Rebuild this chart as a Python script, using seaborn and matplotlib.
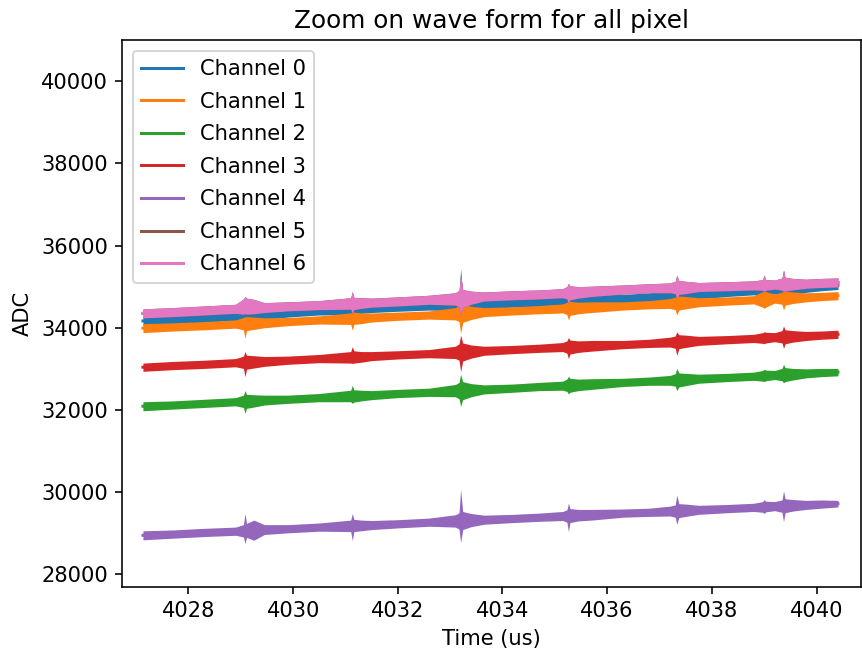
import matplotlib
matplotlib.use("Agg")
import matplotlib.pyplot as plt
import pandas as pd
import seaborn as sns

# Sample times (us) (denser around the periodic bursts)
time_us = [4027.13, 4027.7, 4028.3, 4028.9, 4029.05, 4029.08, 4029.11, 4029.25, 4029.45, 4029.9,
           4030.5, 4031.1, 4031.13, 4031.16, 4031.3, 4031.5, 4032.0, 4032.6, 4033.1, 4033.17,
           4033.2, 4033.24, 4033.4, 4033.65, 4034.2, 4034.7, 4035.15, 4035.23, 4035.26, 4035.29,
           4035.45, 4035.7, 4036.3, 4036.8, 4037.2, 4037.3, 4037.33, 4037.37, 4037.5, 4037.75,
           4038.3, 4038.8, 4038.97, 4039.0, 4039.03, 4039.2, 4039.34, 4039.37, 4039.4, 4039.55,
           4039.8, 4040.1, 4040.41]

# Lower / upper edge of each noisy waveform band (ADC)
ch0_lo = [34060, 34090, 34130, 34180, 34150, 34050, 34140, 34170, 34200, 34260,
          34310, 34320, 34330, 34330, 34350, 34370, 34400, 34430, 34410, 34360,
          34150, 34340, 34410, 34460, 34500, 34520, 34520, 34500, 34310, 34480,
          34520, 34540, 34590, 34630, 34640, 34620, 34640, 34620, 34650, 34700,
          34760, 34800, 34780, 34750, 34780, 34820, 34800, 34790, 34790, 34820,
          34860, 34900, 34930]
ch0_hi = [34270, 34310, 34350, 34400, 34450, 34600, 34480, 34470, 34460, 34480,
          34530, 34600, 34700, 34610, 34610, 34610, 34620, 34650, 34710, 34760,
          35440, 34800, 34730, 34700, 34720, 34740, 34760, 34800, 35040, 34820,
          34800, 34800, 34810, 34850, 34900, 34940, 35280, 34960, 34950, 34940,
          34980, 35020, 35060, 35280, 35060, 35060, 35100, 35400, 35110, 35100,
          35100, 35120, 35140]

ch1_lo = [33880, 33920, 33950, 33990, 33950, 33740, 33930, 33960, 34000, 34050,
          34090, 34080, 33940, 34080, 34100, 34140, 34180, 34210, 34190, 34150,
          33860, 34130, 34200, 34270, 34310, 34340, 34360, 34320, 34190, 34300,
          34340, 34370, 34430, 34460, 34470, 34440, 34310, 34430, 34460, 34510,
          34550, 34580, 34500, 34470, 34500, 34600, 34570, 34430, 34550, 34590,
          34630, 34660, 34680]
ch1_hi = [34100, 34120, 34150, 34190, 34250, 34270, 34270, 34260, 34240, 34250,
          34290, 34360, 34390, 34380, 34360, 34360, 34380, 34410, 34490, 34550,
          34590, 34570, 34520, 34490, 34510, 34540, 34580, 34620, 34660, 34640,
          34620, 34630, 34630, 34660, 34710, 34740, 34800, 34770, 34760, 34730,
          34750, 34780, 34880, 34880, 34880, 34820, 34870, 34880, 34890, 34870,
          34850, 34860, 34880]

ch2_lo = [31980, 32020, 32060, 32100, 32060, 31920, 32040, 32070, 32120, 32160,
          32200, 32200, 32160, 32190, 32220, 32250, 32300, 32330, 32320, 32270,
          32090, 32250, 32320, 32390, 32430, 32470, 32480, 32450, 32390, 32430,
          32470, 32500, 32570, 32600, 32600, 32580, 32470, 32560, 32590, 32650,
          32690, 32720, 32700, 32690, 32710, 32740, 32710, 32660, 32690, 32730,
          32780, 32810, 32830]
ch2_hi = [32200, 32220, 32260, 32300, 32360, 32470, 32380, 32370, 32360, 32360,
          32400, 32480, 32600, 32490, 32480, 32470, 32500, 32530, 32620, 32670,
          32870, 32690, 32640, 32610, 32630, 32670, 32700, 32750, 32820, 32770,
          32750, 32760, 32770, 32800, 32840, 32880, 33010, 32900, 32890, 32870,
          32890, 32920, 32960, 32990, 32970, 32960, 33010, 33110, 33030, 33010,
          33000, 33010, 33010]

ch3_lo = [32940, 32980, 33010, 33050, 33010, 32810, 32990, 33020, 33060, 33110,
          33150, 33140, 33130, 33140, 33160, 33200, 33240, 33270, 33250, 33210,
          32930, 33190, 33260, 33330, 33370, 33400, 33420, 33380, 33250, 33360,
          33400, 33430, 33490, 33520, 33530, 33500, 33330, 33490, 33520, 33570,
          33610, 33640, 33620, 33610, 33630, 33660, 33630, 33500, 33610, 33650,
          33690, 33720, 33740]
ch3_hi = [33140, 33180, 33210, 33250, 33310, 33420, 33330, 33320, 33300, 33310,
          33350, 33420, 33540, 33440, 33420, 33420, 33440, 33470, 33550, 33610,
          33820, 33630, 33580, 33550, 33570, 33600, 33640, 33680, 33760, 33700,
          33680, 33690, 33690, 33720, 33770, 33800, 33900, 33830, 33820, 33790,
          33810, 33840, 33880, 33900, 33890, 33880, 33930, 34040, 33950, 33930,
          33910, 33920, 33940]

ch4_lo = [28840, 28880, 28920, 28950, 28910, 28750, 28900, 28830, 28970, 29010,
          29050, 29040, 28820, 29040, 29060, 29090, 29130, 29170, 29150, 29100,
          28770, 29090, 29160, 29220, 29260, 29290, 29310, 29270, 29040, 29260,
          29300, 29320, 29390, 29410, 29420, 29390, 29220, 29380, 29410, 29460,
          29500, 29530, 29510, 29480, 29520, 29550, 29510, 29280, 29500, 29540,
          29580, 29610, 29640]
ch4_hi = [29060, 29080, 29120, 29150, 29210, 29480, 29240, 29320, 29210, 29210,
          29250, 29320, 29480, 29340, 29320, 29310, 29330, 29370, 29450, 29500,
          30070, 29530, 29480, 29440, 29460, 29490, 29530, 29570, 29730, 29600,
          29580, 29580, 29590, 29610, 29660, 29690, 29930, 29720, 29710, 29680,
          29700, 29730, 29770, 29820, 29780, 29770, 29810, 30030, 29840, 29820,
          29800, 29810, 29800]

ch6_lo = [34240, 34270, 34310, 34350, 34330, 34340, 34330, 34340, 34370, 34410,
          34440, 34450, 34350, 34440, 34470, 34500, 34530, 34570, 34550, 34510,
          34300, 34490, 34570, 34650, 34680, 34700, 34730, 34700, 34590, 34680,
          34720, 34760, 34820, 34850, 34850, 34830, 34710, 34810, 34830, 34880,
          34900, 34920, 34910, 34880, 34910, 34940, 34910, 34880, 34890, 34920,
          34960, 34980, 34990]
ch6_hi = [34460, 34490, 34530, 34570, 34700, 34760, 34720, 34690, 34610, 34630,
          34660, 34730, 34880, 34740, 34730, 34720, 34750, 34790, 34850, 34910,
          35300, 34930, 34890, 34870, 34900, 34920, 34950, 35000, 35080, 35020,
          35000, 35010, 35040, 35070, 35090, 35130, 35280, 35150, 35130, 35100,
          35120, 35140, 35170, 35280, 35170, 35160, 35210, 35400, 35230, 35200,
          35180, 35200, 35210]

# Channel 5 is completely hidden underneath channel 6 in the picture
ch5_lo = list(ch6_lo)
ch5_hi = list(ch6_hi)

channel_names = ["Channel 0", "Channel 1", "Channel 2", "Channel 3",
                 "Channel 4", "Channel 5", "Channel 6"]
band_lo = [ch0_lo, ch1_lo, ch2_lo, ch3_lo, ch4_lo, ch5_lo, ch6_lo]
band_hi = [ch0_hi, ch1_hi, ch2_hi, ch3_hi, ch4_hi, ch5_hi, ch6_hi]

rows = []
for name, lo, hi in zip(channel_names, band_lo, band_hi):
    for t, l, h in zip(time_us, lo, hi):
        rows.append((t, l, name))
        rows.append((t, h, name))
df = pd.DataFrame(rows, columns=["time", "adc", "channel"])

plt.rcParams["font.size"] = 10.5

W, H, DPI = 862, 652, 144
fig = plt.figure(figsize=(W / DPI, H / DPI), dpi=DPI)
ax = fig.add_axes([122 / W, (H - 586.7) / H, (861 - 122) / W, (586.7 - 40) / H])

sns.lineplot(data=df, x="time", y="adc", hue="channel",
             palette=sns.color_palette("tab10", 7),
             estimator="mean", errorbar=("pi", 100),
             err_kws={"alpha": 1.0, "linewidth": 0},
             linewidth=1.5, ax=ax)

# stack channels in drawing order (later channels on top)
lines = [l for l in ax.lines if len(l.get_xdata()) > 5]
bands = list(ax.collections)
for i, (ln, bd) in enumerate(zip(lines, bands)):
    bd.set_zorder(2 + i * 0.1)
    ln.set_zorder(2.05 + i * 0.1)

ax.set_xlim(4026.73, 4040.85)
ax.set_ylim(27700, 41000)
ax.set_title("Zoom on wave form for all pixel", fontsize=12.4)
ax.set_xlabel("Time (us)")
ax.set_ylabel("ADC")
sns.move_legend(ax, "upper left", title=None, labelspacing=0.6, fontsize=10.5)
for h in ax.get_legend().get_lines():
    h.set_linewidth(1.5)

fig.savefig("out.png", dpi=DPI)
